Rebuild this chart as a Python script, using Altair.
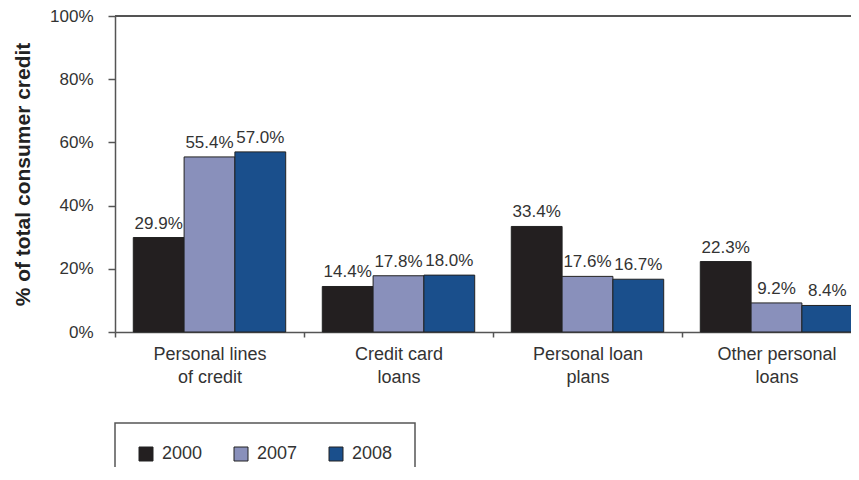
import altair as alt
import pandas as pd

categories = ["Personal lines\nof credit", "Credit card\nloans", "Personal loan\nplans", "Other personal\nloans"]
years = ["2000", "2007", "2008"]
values_2000 = [29.9, 14.4, 33.4, 22.3]
values_2007 = [55.4, 17.8, 17.6, 9.2]
values_2008 = [57.0, 18.0, 16.7, 8.4]
colors = ["#231f20", "#8990bb", "#1a4f8c"]
y_ticks = [0, 20, 40, 60, 80, 100]

rows = []
for yr, vals in zip(years, [values_2000, values_2007, values_2008]):
    for c, v in zip(categories, vals):
        rows.append({"category": c, "year": yr, "value": v})
df = pd.DataFrame(rows)

FONT = "Liberation Sans"
TXT = "#333333"
AX = "#555555"

x_enc = alt.X(
    "category:N",
    sort=categories,
    scale=alt.Scale(range=[0, 756], paddingInner=0, paddingOuter=0),
    axis=alt.Axis(
        title=None,
        labelAngle=0,
        tickBand="extent",
        labelExpr="split(datum.label, '\\n')",
        labelFont=FONT,
        labelFontSize=18,
        labelColor=TXT,
        labelLineHeight=23,
        labelPadding=8,
        labelBaseline="top",
        tickSize=5,
        tickColor=AX,
        tickWidth=1.5,
        domainColor=AX,
        domainWidth=1.5,
    ),
)
xoff = alt.XOffset("year:N", sort=years, scale=alt.Scale(paddingOuter=0.36, paddingInner=0))
y_enc = alt.Y(
    "value:Q",
    scale=alt.Scale(domain=[0, 100], nice=False),
    axis=alt.Axis(
        title="% of total consumer credit",
        values=y_ticks,
        labelExpr="datum.value + '%'",
        labelFont=FONT,
        labelFontSize=17,
        labelColor=TXT,
        labelPadding=15,
        tickSize=7,
        tickColor=AX,
        tickWidth=1.5,
        domainColor=AX,
        domainWidth=1.5,
        grid=False,
        titleFont=FONT,
        titleFontSize=21,
        titleFontWeight="bold",
        titleColor="#222222",
        titlePadding=16,
    ),
)

bars = alt.Chart(df).mark_bar(stroke="#222222", strokeWidth=1).encode(
    x=x_enc,
    xOffset=xoff,
    y=y_enc,
    fill=alt.Fill(
        "year:N",
        sort=years,
        scale=alt.Scale(domain=years, range=colors),
        legend=alt.Legend(
            title=None,
            orient="none",
            legendX=0,
            legendY=407,
            direction="horizontal",
            padding=22,
            strokeColor=AX,
            symbolType="square",
            symbolSize=196,
            symbolStrokeColor="#222222",
            symbolStrokeWidth=1,
            symbolOpacity=1,
            labelFont=FONT,
            labelFontSize=18,
            labelColor=TXT,
            labelOffset=7,
            columnPadding=29,
        ),
    ),
)

labels = alt.Chart(df).transform_calculate(
    txt="format(datum.value, '.1f') + '%'"
).mark_text(font=FONT, fontSize=17, color=TXT, baseline="alphabetic", dy=-9).encode(
    x=alt.X("category:N", sort=categories),
    xOffset=alt.XOffset("year:N", sort=years),
    y=alt.Y("value:Q"),
    text="txt:N",
)

top_line = alt.Chart(df).mark_rule(color=AX, strokeWidth=1.5).encode(y=alt.datum(100))

chart = alt.layer(bars, labels, top_line).properties(
    width=736,
    height=316,
    autosize=alt.AutoSizeParams(type="none"),
    padding={"left": 107, "top": 8, "right": 0, "bottom": 135},
).configure_view(strokeWidth=0).configure_legend(strokeWidth=1.5)

chart.save("out.html", embed_options={"renderer": "svg", "actions": False})
